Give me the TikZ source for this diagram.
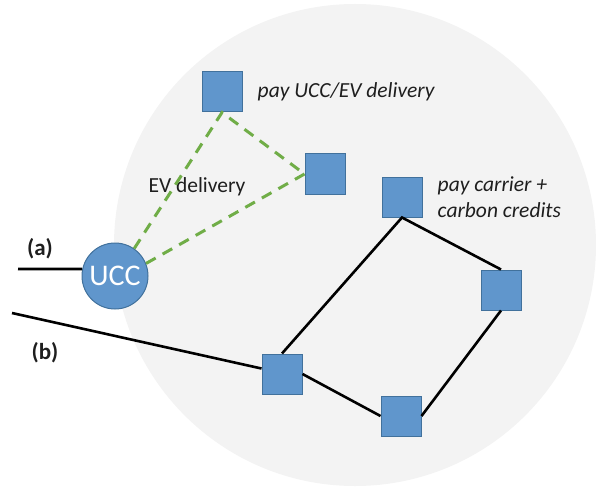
\documentclass[tikz,border=0pt]{standalone}
\usepackage{fontspec}
\setmainfont{Carlito}
\usetikzlibrary{positioning}
\definecolor{stopblue}{RGB}{96,150,204}
\definecolor{stopedge}{RGB}{65,113,156}
\definecolor{evgreen}{RGB}{112,173,71}
\definecolor{zonegray}{RGB}{243,243,243}
\definecolor{textgray}{RGB}{30,30,30}
\begin{document}
\begin{tikzpicture}[
                x=1pt, y=-1pt,
                every node/.style={font=\fontsize{21.5}{26}\selectfont, text=textgray},
                stop/.style={rectangle, draw=stopedge, fill=stopblue, line width=1pt, minimum size=40pt, inner sep=0pt},
                depot/.style={circle, draw=stopedge, fill=stopblue, line width=1pt, minimum size=66pt, inner sep=0pt},
                note/.style={font=\fontsize{21.5}{26}\selectfont\itshape, align=left, inner sep=0pt},
                route/.style={line width=2.6pt, black},
                evroute/.style={line width=3pt, evgreen, dash pattern=on 11pt off 8pt}
            ]
                \useasboundingbox (0,0) rectangle (596,489);
                % city zone
                \fill [zonegray] (355,245) circle (241pt);

                \node [stop] (pay1) at (222,92) {};
                \node [stop] (ev2) at (325,174) {};
                \node [stop] (pay2) at (402,197) {};
                \node [stop] (c1) at (501,290) {};
                \node [stop] (c2) at (401,416) {};
                \node [stop] (c3) at (282,374) {};
                \node [depot, text=white, font=\fontsize{30}{34}\selectfont] (ucc) at (115,276) {UCC};

                \node [note, right=15pt of pay1] (lab1) {pay UCC/EV delivery};
                \node [note, right=15pt of pay2] (lab2) {pay carrier +\\carbon credits};
                \node (evlab) at (197,187) {EV delivery};
                \node [font=\fontsize{23}{26}\selectfont\bfseries] (la) at (40,249) {(a)};
                \node [font=\fontsize{23}{26}\selectfont\bfseries] (lb) at (45,353) {(b)};

                \coordinate (ina) at (18,269);
                \coordinate (inb) at (12,313);

                % EV trips
                \draw [evroute] (ucc.55) -- (pay1.south) -- (ev2.west);
                \draw [evroute] (ucc.22) -- (ev2.west);

                % carrier tour
                \draw [route] (ina) -- (ucc.168);
                \draw [route] (inb) -- (c3.165);
                \draw [route] (c3.north) -- (pay2.south) -- (c1.north);
                \draw [route] (c1.south) -- (c2.east);
                \draw [route] (c2.west) -- (c3.east);
            \end{tikzpicture}
\end{document}
